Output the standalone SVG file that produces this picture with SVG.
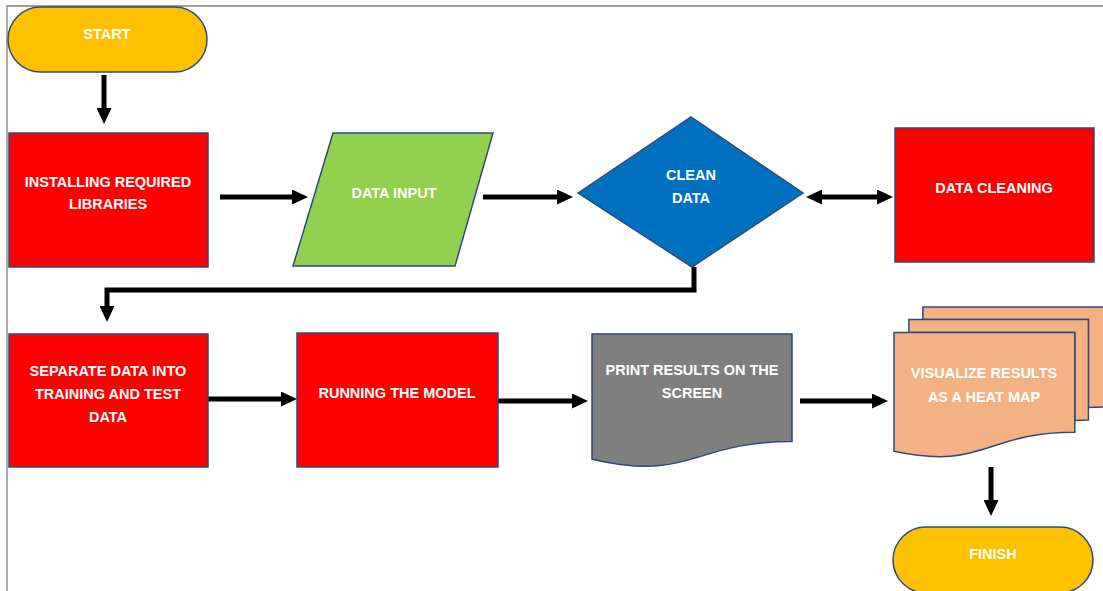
<svg xmlns="http://www.w3.org/2000/svg" width="1103" height="591" viewBox="0 0 1103 591">
<style>
.shape{stroke:#2F4A78;stroke-width:1.5}
.red{fill:#FF0000}
.lbl{font-family:"Liberation Sans",Arial,sans-serif;font-weight:bold;font-size:14.5px;fill:#FFFFFF;text-anchor:middle}
.conn{stroke:#000000;stroke-width:5;fill:none;marker-end:url(#ah)}
.frame{stroke:#808080;stroke-width:1.3;fill:none}
</style>
<defs>
<marker id="ah" markerUnits="userSpaceOnUse" markerWidth="16" markerHeight="15" refX="6" refY="7.5" orient="auto-start-reverse">
<path d="M0,0 L16,7.5 L0,15 Z" fill="#000000"/>
</marker>
</defs>
<rect width="1103" height="591" fill="#FFFFFF"/>
<path class="frame" d="M7,591 V6 H1103"/>

<g id="connectors">
<path class="conn" d="M104,75 V114"/>
<path class="conn" d="M220,197 H298"/>
<path class="conn" d="M483,197 H563"/>
<path class="conn" d="M816,197 H883" style="marker-start:url(#ah)"/>
<path class="conn" d="M694,267 V290 H107 V312" style="stroke-linejoin:miter"/>
<path class="conn" d="M208,399 H287"/>
<path class="conn" d="M498,401 H578"/>
<path class="conn" d="M800,401 H878"/>
<path class="conn" d="M991,467 V506"/>
</g>

<g id="start">
<rect class="shape" x="8" y="7" width="199" height="65" rx="32.5" fill="#FFC000"/>
<text class="lbl" x="107" y="39">START</text>
</g>

<g id="installing">
<rect class="shape red" x="9" y="133" width="199" height="134"/>
<text class="lbl" x="108" y="187">INSTALLING REQUIRED</text>
<text class="lbl" x="108" y="209">LIBRARIES</text>
</g>

<g id="data-input">
<path class="shape" d="M333,133 H493 L455,266 H293 Z" fill="#92D050"/>
<text class="lbl" x="394" y="198">DATA INPUT</text>
</g>

<g id="clean-data">
<path class="shape" d="M578,193 L691,117 L803,193 L692,267 Z" fill="#0070C0"/>
<text class="lbl" x="691" y="180">CLEAN</text>
<text class="lbl" x="691" y="203">DATA</text>
</g>

<g id="data-cleaning">
<rect class="shape red" x="895" y="128" width="199" height="134"/>
<text class="lbl" x="994" y="193">DATA CLEANING</text>
</g>

<g id="separate">
<rect class="shape red" x="9" y="334" width="199" height="133"/>
<text class="lbl" x="108" y="376">SEPARATE DATA INTO</text>
<text class="lbl" x="108" y="399">TRAINING AND TEST</text>
<text class="lbl" x="108" y="422">DATA</text>
</g>

<g id="running">
<rect class="shape red" x="297" y="333" width="201" height="134"/>
<text class="lbl" x="397" y="398">RUNNING THE MODEL</text>
</g>

<g id="print">
<path class="shape" d="M592,334 H792 V441.5 C692,441.5 692,482.4 592,459.2 Z" fill="#7F7F7F"/>
<text class="lbl" x="692" y="375">PRINT RESULTS ON THE</text>
<text class="lbl" x="692" y="398">SCREEN</text>
</g>

<g id="visualize">
<path class="shape" d="M922.9,319.6 V307 H1104 V406.9 C1096.2,406.9 1088.4,407.5 1088.4,407.5 V319.6 Z" fill="#F4B183"/>
<path class="shape" d="M908.9,332.5 V319.6 H1088.4 V419.9 C1081.6,419.9 1074.8,420.6 1074.8,420.6 V332.5 Z" fill="#F4B183"/>
<path class="shape" d="M894,332.5 H1074.8 V432.2 C984.4,432.2 984.4,470.5 894,451.3 Z" fill="#F4B183"/>
<text class="lbl" x="984" y="378">VISUALIZE RESULTS</text>
<text class="lbl" x="984" y="402">AS A HEAT MAP</text>
</g>

<g id="finish">
<rect class="shape" x="893" y="527" width="200" height="66" rx="33" fill="#FFC000"/>
<text class="lbl" x="993" y="559">FINISH</text>
</g>
</svg>
